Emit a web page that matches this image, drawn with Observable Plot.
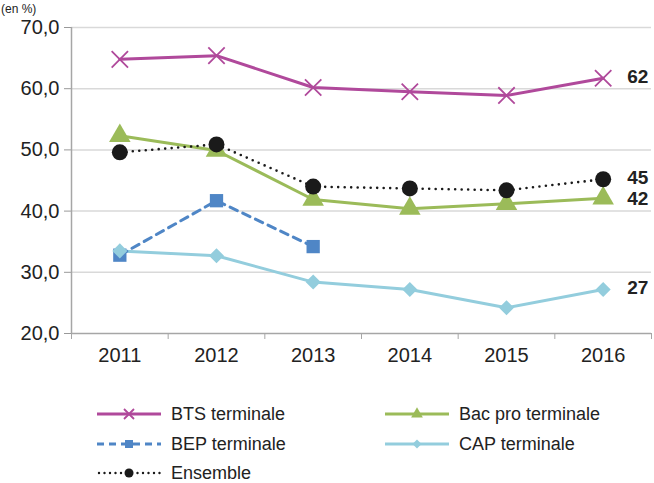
<!DOCTYPE html>
<html><head><meta charset="utf-8">
<script src="https://cdn.jsdelivr.net/npm/d3@7"></script>
<script src="https://cdn.jsdelivr.net/npm/@observablehq/plot@0.6"></script>
<style>
body{margin:0;background:#fff;font-family:"Liberation Sans",Arial,sans-serif;}
#wrap{position:relative;width:654px;height:483px;overflow:hidden;}
#unit{position:absolute;left:1px;top:2px;font-size:12px;line-height:14px;color:#222;}
.leg{position:absolute;display:flex;align-items:center;font-size:18px;color:#222;}
.leg svg{margin-right:10px;}
</style></head>
<body><div id="wrap"><div id="chart"></div><div id="unit">(en %)</div></div>
<script>
const years = [2011, 2012, 2013, 2014, 2015, 2016];
const bts = [64.8, 65.4, 60.2, 59.5, 58.9, 61.7];
const bacpro = [52.3, 49.9, 41.9, 40.4, 41.2, 42.1];
const bep = [32.8, 41.7, 34.2];
const cap = [33.5, 32.7, 28.4, 27.2, 24.2, 27.2];
const ensemble = [49.6, 50.9, 44.0, 43.7, 43.4, 45.2];
const seriesNames = ["BTS terminale", "Bac pro terminale", "BEP terminale", "CAP terminale", "Ensemble"];
const endLabelsUp = [{v: 61.7, t: "62"}, {v: 45.2, t: "45"}, {v: 27.2, t: "27"}];
const endLabelsDown = [{v: 42.1, t: "42"}];
const yTicks = [20, 30, 40, 50, 60, 70];

const colors = {bts: "#b0499b", bac: "#9bbb59", bep: "#4f86c6", cap: "#93cddd", ens: "#1a1a1a"};
const toRows = arr => arr.map((v, i) => ({year: years[i], v}));
const btsD = toRows(bts), bacD = toRows(bacpro), bepD = toRows(bep), capD = toRows(cap), ensD = toRows(ensemble);
const bounds = d3.range(2010.5, 2017, 1);

const chart = Plot.plot({
  width: 654, height: 383,
  marginLeft: 71, marginRight: 3, marginTop: 27, marginBottom: 50,
  style: {fontFamily: "'Liberation Sans', Arial, sans-serif", fontSize: "20px", background: "transparent", overflow: "visible"},
  x: {type: "linear", domain: [2010.5, 2016.5]},
  y: {domain: [20, 70]},
  marks: [
    Plot.ruleY(yTicks.slice(1), {stroke: "#d9d9d9", strokeWidth: 1.5}),
    Plot.axisY({ticks: yTicks, tickFormat: d => d.toFixed(1).replace(".", ","), tickSize: 7, tickPadding: 5, fontSize: 20, stroke: "#999", color: "#222", label: null}),
    Plot.ruleX([2010.5], {stroke: "#a6a6a6", strokeWidth: 1.5}),
    Plot.ruleY([20], {stroke: "#a6a6a6", strokeWidth: 1.5}),
    Plot.axisX({ticks: bounds, tickFormat: () => "", tickSize: 6, stroke: "#a6a6a6", label: null}),
    Plot.axisX({ticks: years, tickFormat: d => String(d), tickSize: 0, tickPadding: 14, fontSize: 20, color: "#222", label: null}),
    Plot.line(capD, {x: "year", y: "v", stroke: colors.cap, strokeWidth: 3}),
    Plot.line(bepD, {x: "year", y: "v", stroke: colors.bep, strokeWidth: 3, strokeDasharray: "8 6"}),
    Plot.line(bacD, {x: "year", y: "v", stroke: colors.bac, strokeWidth: 3}),
    Plot.line(btsD, {x: "year", y: "v", stroke: colors.bts, strokeWidth: 3}),
    Plot.line(ensD, {x: "year", y: "v", stroke: colors.ens, strokeWidth: 2.6, strokeDasharray: "0 6.5", strokeLinecap: "round"}),
    Plot.dot(bepD, {x: "year", y: "v", symbol: "square", r: 7.5, fill: colors.bep}),
    Plot.dot(capD, {x: "year", y: "v", symbol: "square", rotate: 45, r: 6, fill: colors.cap}),
    Plot.dot(bacD, {x: "year", y: "v", symbol: "triangle", r: 8, fill: colors.bac}),
    Plot.dot(btsD, {x: "year", y: "v", symbol: "times", r: 7.5, stroke: colors.bts, strokeWidth: 1.8}),
    Plot.dot(ensD, {x: "year", y: "v", symbol: "circle", r: 8, fill: colors.ens}),
    Plot.text(endLabelsUp, {x: () => 2016, y: "v", text: "t", dx: 24, dy: -1, textAnchor: "start", fontSize: 19, fontWeight: "bold", fill: "#222", lineHeight: 0.9}),
    Plot.text(endLabelsDown, {x: () => 2016, y: "v", text: "t", dx: 24, dy: 1, textAnchor: "start", fontSize: 19, fontWeight: "bold", fill: "#222", lineHeight: 0.9})
  ]
});
document.getElementById("chart").appendChild(chart);

// Legend
const legendItems = [
  {name: seriesNames[0], color: colors.bts, sym: "times", dash: null, x: 97, y: 414},
  {name: seriesNames[1], color: colors.bac, sym: "triangle", dash: null, x: 385, y: 414},
  {name: seriesNames[2], color: colors.bep, sym: "square", dash: "7 5", x: 97, y: 444},
  {name: seriesNames[3], color: colors.cap, sym: "diamond", dash: null, x: 385, y: 444},
  {name: seriesNames[4], color: colors.ens, sym: "circle", dash: "0 5.5", x: 97, y: 473}
];
const wrap = document.getElementById("wrap");
legendItems.forEach(it => {
  const div = document.createElement("div");
  div.className = "leg";
  div.style.left = it.x + "px";
  div.style.top = (it.y - 12) + "px";
  div.style.height = "24px";
  const ns = "http://www.w3.org/2000/svg";
  const s = document.createElementNS(ns, "svg");
  s.setAttribute("width", 64); s.setAttribute("height", 20);
  const l = document.createElementNS(ns, "line");
  l.setAttribute("x1", it.dash && it.dash.startsWith("0") ? 2 : 0); l.setAttribute("x2", 64);
  l.setAttribute("y1", 10); l.setAttribute("y2", 10);
  l.setAttribute("stroke", it.color); l.setAttribute("stroke-width", it.sym === "circle" ? 2.4 : 3);
  if (it.dash) l.setAttribute("stroke-dasharray", it.dash);
  if (it.sym === "circle") l.setAttribute("stroke-linecap", "round");
  s.appendChild(l);
  const p = document.createElementNS(ns, "path");
  let d;
  if (it.sym === "times") { d = "M27,5L37,15M37,5L27,15"; p.setAttribute("stroke", it.color); p.setAttribute("stroke-width", 1.8); p.setAttribute("fill", "none"); }
  else {
    const symMap = {triangle: d3.symbolTriangle, square: d3.symbolSquare, diamond: d3.symbolSquare, circle: d3.symbolCircle};
    const sizes = {triangle: 60, square: 64, diamond: 40, circle: 64};
    d = d3.symbol(symMap[it.sym], sizes[it.sym])();
    p.setAttribute("transform", "translate(32,10)" + (it.sym === "diamond" ? " rotate(45)" : ""));
    p.setAttribute("fill", it.color);
  }
  p.setAttribute("d", d);
  s.appendChild(p);
  div.appendChild(s);
  const t = document.createElement("span");
  t.textContent = it.name;
  div.appendChild(t);
  wrap.appendChild(div);
});
</script></body></html>
